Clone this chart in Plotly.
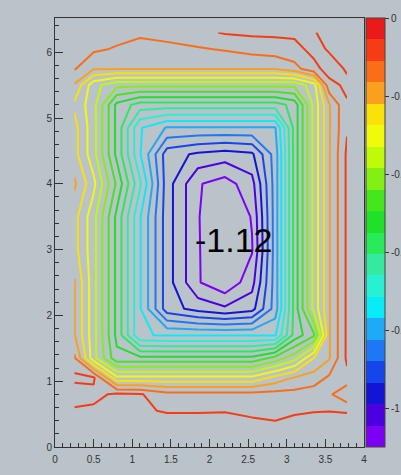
import plotly.graph_objects as go

# grid nodes of the measured surface
x_nodes = [0.25, 0.5, 0.8, 1.1, 1.45, 1.85, 2.2, 2.55, 2.85, 3.1, 3.35, 3.55, 3.78]
y_nodes = [0.3, 0.55, 0.8, 1.05, 1.35, 1.7, 2.1, 2.5, 3.0, 3.5, 4.0, 4.45, 4.85,
           5.2, 5.5, 5.75, 6.05, 6.3]

# z values, one row per y node (left to right along x_nodes)
z_rows = [
    [-0.035, -0.035, -0.035, -0.035, -0.035, -0.035, -0.035, -0.04, -0.045, -0.04, -0.035, -0.035, -0.035],
    [-0.045, -0.045, -0.045, -0.05, -0.058, -0.058, -0.057, -0.065, -0.07, -0.06, -0.057, -0.056, -0.058],
    [-0.09, -0.07, -0.045, -0.05, -0.09, -0.09, -0.09, -0.09, -0.09, -0.09, -0.08, -0.10, -0.16],
    [-0.04, -0.045, -0.26, -0.26, -0.26, -0.26, -0.26, -0.26, -0.20, -0.16, -0.14, -0.10, -0.07],
    [-0.10, -0.31, -0.48, -0.48, -0.48, -0.48, -0.48, -0.48, -0.42, -0.35, -0.22, -0.17, -0.045],
    [-0.16, -0.31, -0.51, -0.71, -0.72, -0.72, -0.72, -0.72, -0.72, -0.53, -0.45, -0.17, -0.045],
    [-0.16, -0.31, -0.51, -0.71, -0.91, -0.955, -0.98, -0.955, -0.80, -0.53, -0.315, -0.17, -0.045],
    [-0.16, -0.31, -0.51, -0.71, -0.91, -1.04, -1.09, -1.01, -0.80, -0.53, -0.315, -0.17, -0.045],
    [-0.20, -0.31, -0.51, -0.71, -0.91, -1.04, -1.10, -1.05, -0.80, -0.53, -0.315, -0.17, -0.045],
    [-0.20, -0.31, -0.51, -0.71, -0.91, -1.04, -1.12, -1.04, -0.80, -0.53, -0.315, -0.17, -0.045],
    [-0.155, -0.26, -0.45, -0.65, -0.91, -1.04, -1.07, -1.01, -0.80, -0.53, -0.315, -0.17, -0.045],
    [-0.20, -0.31, -0.51, -0.71, -0.91, -0.945, -0.96, -0.945, -0.80, -0.53, -0.315, -0.17, -0.045],
    [-0.20, -0.31, -0.51, -0.71, -0.775, -0.775, -0.775, -0.775, -0.775, -0.53, -0.315, -0.17, -0.06],
    [-0.23, -0.31, -0.51, -0.575, -0.575, -0.575, -0.575, -0.575, -0.575, -0.53, -0.315, -0.17, -0.06],
    [-0.17, -0.31, -0.37, -0.37, -0.37, -0.37, -0.37, -0.37, -0.37, -0.37, -0.30, -0.07, -0.045],
    [-0.105, -0.16, -0.16, -0.16, -0.16, -0.16, -0.16, -0.16, -0.16, -0.13, -0.07, -0.035, -0.06],
    [-0.09, -0.10, -0.115, -0.13, -0.125, -0.115, -0.105, -0.09, -0.08, -0.07, -0.04, -0.06, -0.075],
    [-0.07, -0.08, -0.09, -0.10, -0.09, -0.07, -0.05, -0.045, -0.045, -0.045, -0.052, -0.07, -0.08],
]

# palette bands, from the top of the scale (0) down to the minimum
band_colors = [
    "rgb(235,25,25)", "rgb(245,60,20)", "rgb(250,110,25)", "rgb(250,160,30)",
    "rgb(250,225,10)", "rgb(240,250,10)", "rgb(190,250,10)", "rgb(130,240,20)",
    "rgb(70,230,30)", "rgb(30,225,40)", "rgb(40,235,90)", "rgb(50,235,160)",
    "rgb(40,240,210)", "rgb(10,235,250)", "rgb(30,170,245)", "rgb(30,120,245)",
    "rgb(20,70,235)", "rgb(20,20,215)", "rgb(75,0,225)", "rgb(125,0,245)",
]

z_low = -1.10
z_high = 0.0
n_bands = len(band_colors)
band_step = (z_high - z_low) / n_bands
n_levels = n_bands - 1
first_level = z_low + band_step
last_level = z_low + n_levels * band_step

cbar_tick_vals = [0, -0.2, -0.4, -0.6, -0.8, -1]
cbar_tick_text = ["0", "-0.2", "-0.4", "-0.6", "-0.8", "-1"]

min_label = "-1.12"
min_label_x = 2.32
min_label_y = 3.15

bg = "rgb(186,194,202)"
ink = "#333333"
font_family = "Liberation Sans, Arial, sans-serif"

# line colours: the lowest level sits at 0, the highest at 1; each level
# takes the colour of the band just below it
line_scale = []
for i in range(n_levels):
    band_from_top = n_levels - i + 1  # 1 = top band
    line_scale.append([i / (n_levels - 1), band_colors[band_from_top - 1]])

# stepped scale for the palette bar
bar_scale = []
for k in range(n_bands):
    c = band_colors[n_bands - 1 - k]
    bar_scale.append([k / n_bands, c])
    bar_scale.append([(k + 1) / n_bands, c])

fig = go.Figure()

fig.add_trace(go.Contour(
    x=x_nodes, y=y_nodes, z=z_rows,
    autocontour=False,
    contours=dict(start=first_level, end=last_level, size=band_step,
                  coloring="lines", showlabels=False),
    line=dict(width=2, smoothing=0),
    colorscale=line_scale,
    showscale=False,
    hoverinfo="skip",
))

fig.add_trace(go.Scatter(
    x=[None], y=[None], mode="markers", showlegend=False, hoverinfo="skip",
    marker=dict(
        color=[z_low], cmin=z_low, cmax=z_high, colorscale=bar_scale,
        showscale=True,
        colorbar=dict(
            thickness=19, thicknessmode="pixels",
            len=1, lenmode="fraction",
            x=(366 - 55) / 309, xanchor="left", xpad=0,
            y=0, yanchor="bottom", ypad=0,
            outlinewidth=1, outlinecolor="#444444",
            tickvals=cbar_tick_vals, ticktext=cbar_tick_text,
            ticks="outside", ticklen=4, tickcolor=ink,
            tickfont=dict(size=10, color=ink, family=font_family),
        ),
    ),
))

fig.add_annotation(
    x=min_label_x, y=min_label_y, text=min_label, showarrow=False,
    xanchor="center", yanchor="middle",
    font=dict(size=34, color="black", family=font_family),
)

axis_common = dict(
    ticks="inside", ticklen=8, tickcolor=ink, tickwidth=1,
    showline=True, linecolor=ink, linewidth=1, mirror=True,
    showgrid=False, zeroline=False,
    tickfont=dict(size=10, color=ink, family=font_family),
)

fig.update_xaxes(range=[0, 4], tick0=0, dtick=0.5, ticklabelstandoff=3,
                 minor=dict(dtick=0.1, ticks="inside", ticklen=4, tickcolor=ink, showgrid=False),
                 **axis_common)
fig.update_yaxes(range=[0, 6.52], tick0=0, dtick=1,
                 minor=dict(dtick=0.2, ticks="inside", ticklen=4, tickcolor=ink, showgrid=False),
                 **axis_common)

fig.update_layout(
    width=401, height=475,
    margin=dict(l=55, r=37, t=18, b=28, autoexpand=False),
    paper_bgcolor=bg, plot_bgcolor=bg,
    showlegend=False,
)

fig.write_html("out.html")
